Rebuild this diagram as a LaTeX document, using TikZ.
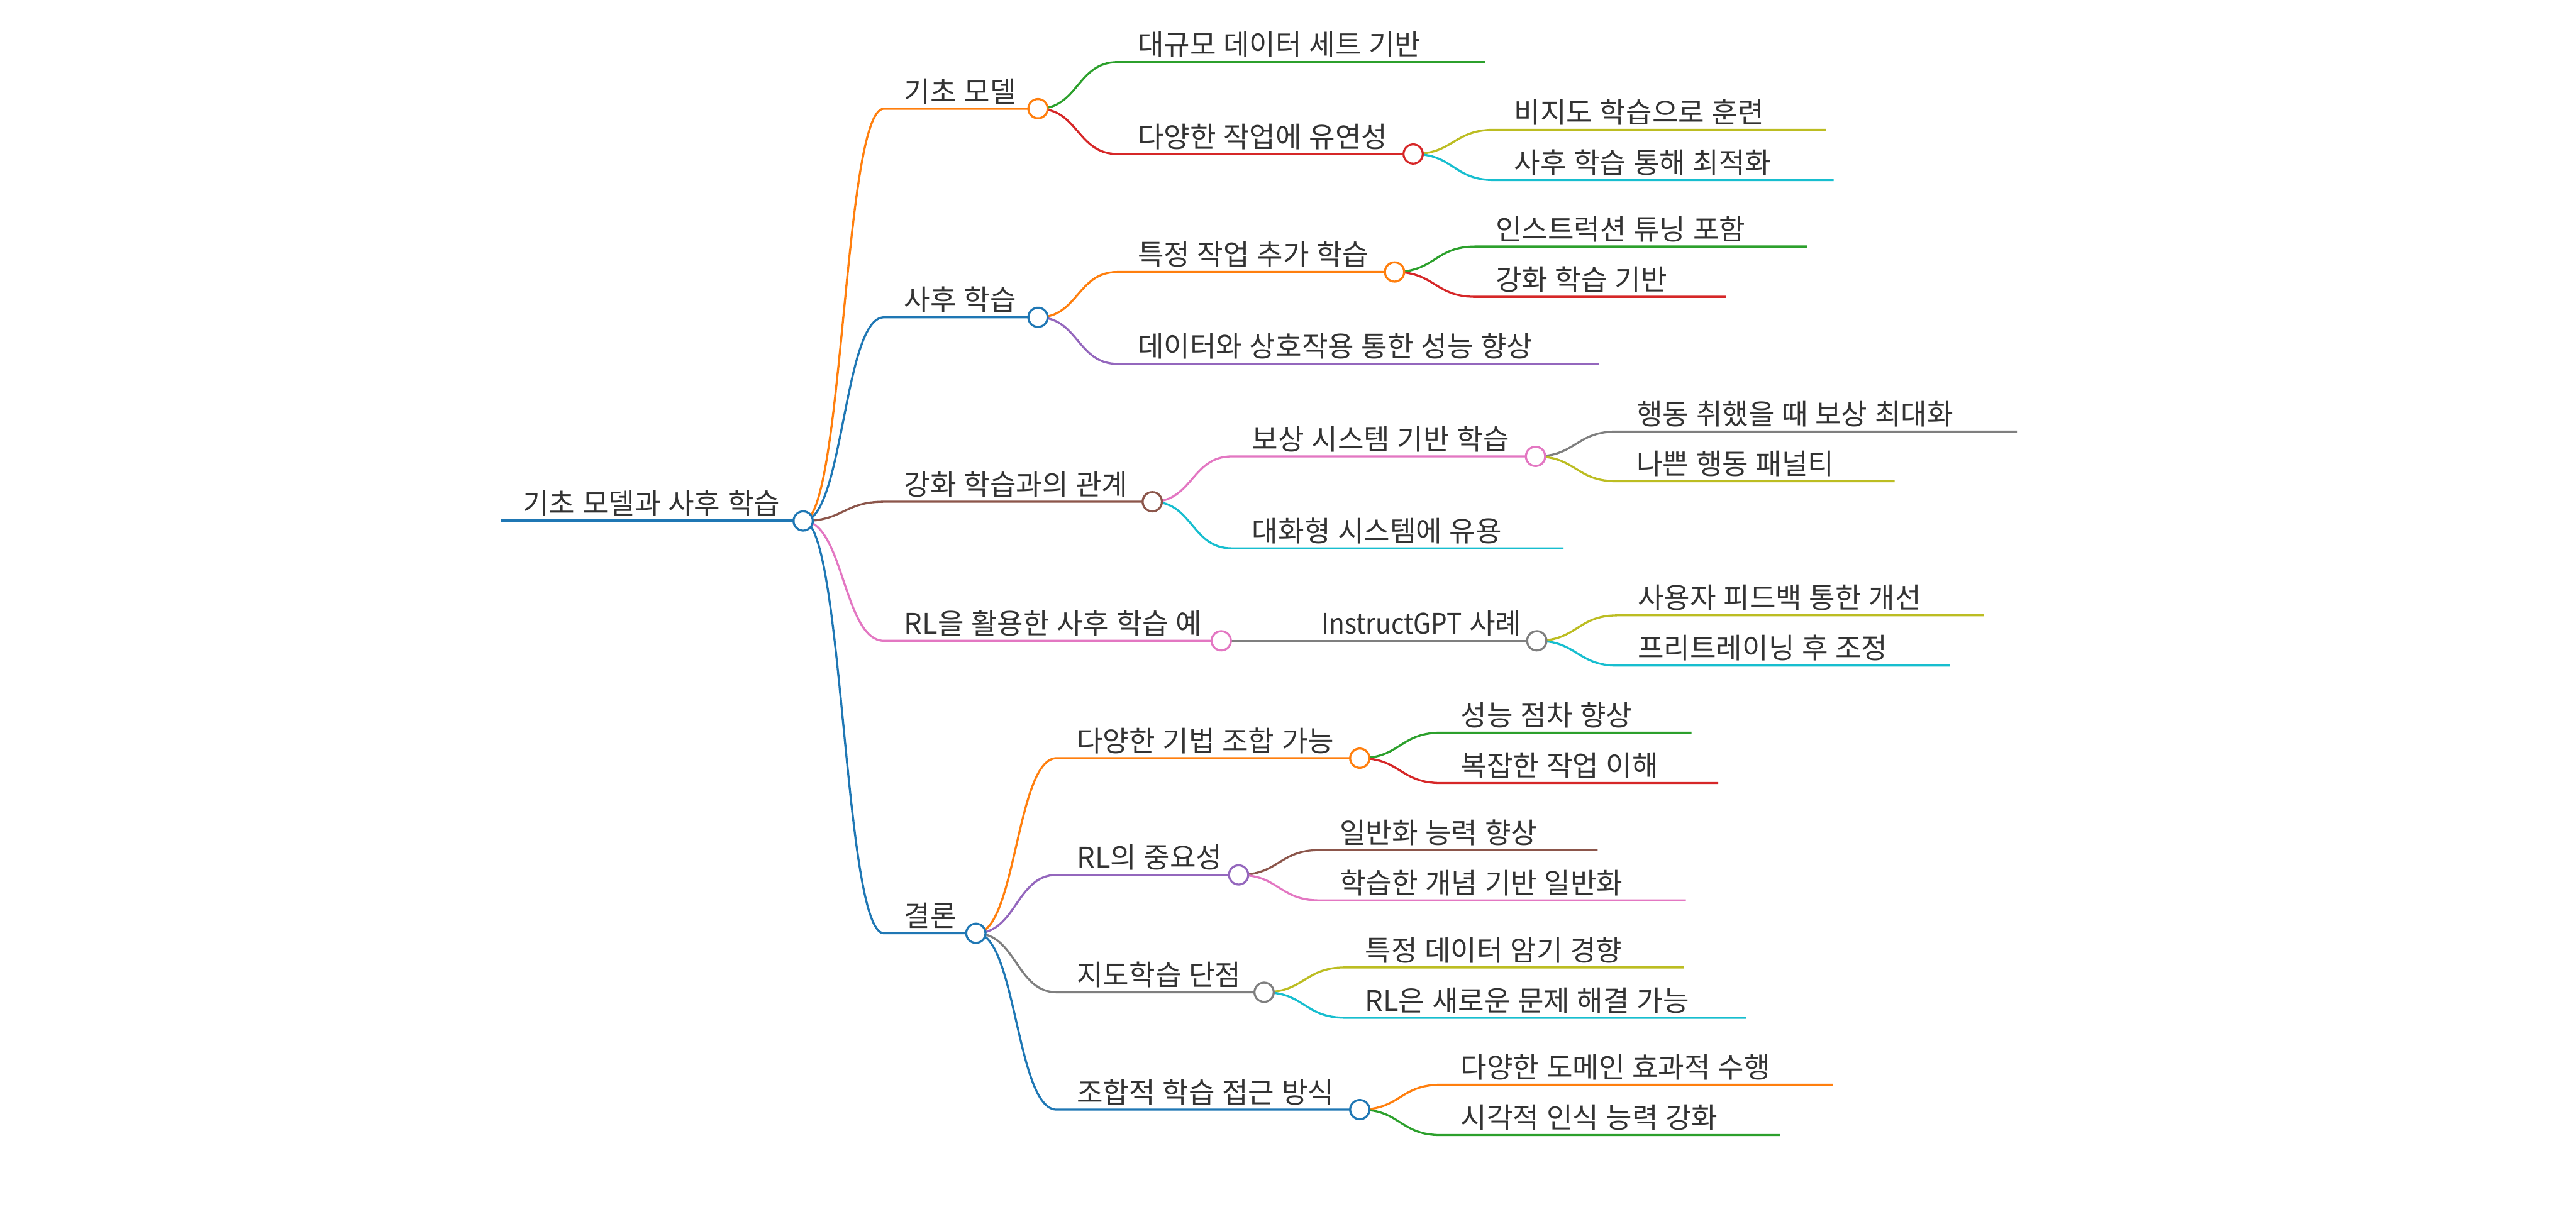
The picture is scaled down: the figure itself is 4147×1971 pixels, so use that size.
\documentclass[tikz,border=0pt]{standalone}
\usepackage{fontspec}
\setmainfont{Noto Sans CJK KR}[WordSpace=1.15]
\newfontfamily\narrowlatin{Noto Sans CJK KR}[FakeStretch=0.9]
\usetikzlibrary{calc}
\definecolor{cblue}{HTML}{1F77B4}
\definecolor{corange}{HTML}{FF7F0E}
\definecolor{cgreen}{HTML}{2CA02C}
\definecolor{cred}{HTML}{D62728}
\definecolor{cpurple}{HTML}{9467BD}
\definecolor{cbrown}{HTML}{8C564B}
\definecolor{cpink}{HTML}{E377C2}
\definecolor{cgray}{HTML}{7F7F7F}
\definecolor{colive}{HTML}{BCBD22}
\definecolor{ccyan}{HTML}{17BECF}
\definecolor{txt}{HTML}{333333}
\pgfdeclarelayer{back}
\pgfdeclarelayer{bg}
\pgfsetlayers{back,bg,main}
% #1 name, #2 parent, #3 colour, #4 start x, #5 y, #6 circle x, #7 text
\newcommand\mmnode[7]{%
  \coordinate (#1-s) at (#4,#5);
  \node[dot,draw=#3] (#1) at (#6,#5) {};
  \node[lbl] (#1-t) at ([shift={(32,-11)}]#1-s) {#7};
  \begin{pgfonlayer}{bg}
    \draw[edge,#3] (#2.center) .. controls +(65,0) and +(-65,0) .. (#1-s) -- (#1.center);
  \end{pgfonlayer}}
% #1 name, #2 parent, #3 colour, #4 start x, #5 y, #6 end x, #7 text
\newcommand\mmleaf[7]{%
  \coordinate (#1-s) at (#4,#5);
  \coordinate (#1-e) at (#6,#5);
  \node[lbl] (#1-t) at ([shift={(32,-11)}]#1-s) {#7};
  \begin{pgfonlayer}{bg}
    \draw[edge,#3] (#2.center) .. controls +(65,0) and +(-65,0) .. (#1-s) -- (#1-e);
  \end{pgfonlayer}}
\begin{document}
\begin{tikzpicture}[x=0.01cm,y=-0.01cm,
  edge/.style={line width=0.95pt},
  dot/.style={circle,fill=white,line width=0.95pt,minimum size=0.31cm,inner sep=0pt},
  lbl/.style={anchor=base west,inner sep=0pt,text=txt,font=\fontsize{13pt}{15pt}\selectfont}]
\begin{pgfonlayer}{back}
  \fill[white] (0,0) rectangle (4147,1971);
\end{pgfonlayer}
\useasboundingbox (0,0) rectangle (4147,1971);

% root
\coordinate (R-s) at (807,839);
\node[dot,draw=cblue] (R) at (1293,839) {};
\node[lbl] (R-t) at ([shift={(34,-11)}]R-s) {기초 모델과 사후 학습};
\begin{pgfonlayer}{bg}
  \draw[line width=1.35pt,cblue] (R-s) -- (R.center);
\end{pgfonlayer}

% level 1
\mmnode{A}{R}{corange}{1423}{175}{1671}{기초 모델}
\mmnode{B}{R}{cblue}{1423}{511}{1671}{사후 학습}
\mmnode{C}{R}{cbrown}{1423}{808}{1855}{강화 학습과의 관계}
\mmnode{D}{R}{cpink}{1423}{1032}{1966}{RL을 활용한 사후 학습 예}
\mmnode{E}{R}{cblue}{1423}{1503}{1571}{결론}

% 기초 모델
\mmleaf{A1}{A}{cgreen}{1799}{100}{2391}{대규모 데이터 세트 기반}
\mmnode{A2}{A}{cred}{1799}{248}{2275}{다양한 작업에 유연성}
\mmleaf{A21}{A2}{colive}{2405}{209}{2939}{비지도 학습으로 훈련}
\mmleaf{A22}{A2}{ccyan}{2405}{290}{2952}{사후 학습 통해 최적화}

% 사후 학습
\mmnode{B1}{B}{corange}{1799}{438}{2245}{특정 작업 추가 학습}
\mmleaf{B2}{B}{cpurple}{1799}{586}{2574}{데이터와 상호작용 통한 성능 향상}
\mmleaf{B11}{B1}{cgreen}{2375}{397}{2909}{인스트럭션 튜닝 포함}
\mmleaf{B12}{B1}{cred}{2375}{478}{2779}{강화 학습 기반}

% 강화 학습과의 관계
\mmnode{C1}{C}{cpink}{1983}{735}{2472}{보상 시스템 기반 학습}
\mmleaf{C2}{C}{ccyan}{1983}{883}{2517}{대화형 시스템에 유용}
\mmleaf{C11}{C1}{cgray}{2602}{695}{3247}{행동 취했을 때 보상 최대화}
\mmleaf{C12}{C1}{colive}{2602}{775}{3050}{나쁜 행동 패널티}

% RL을 활용한 사후 학습 예
\mmnode{D1}{D}{cgray}{2095}{1032}{2474}{{\narrowlatin InstructGPT} 사례}
\mmleaf{D11}{D1}{colive}{2604}{991}{3194}{사용자 피드백 통한 개선}
\mmleaf{D12}{D1}{ccyan}{2604}{1072}{3139}{프리트레이닝 후 조정}

% 결론
\mmnode{E1}{E}{corange}{1701}{1221}{2189}{다양한 기법 조합 가능}
\mmnode{E2}{E}{cpurple}{1701}{1409}{1994}{RL의 중요성}
\mmnode{E3}{E}{cgray}{1701}{1598}{2035}{지도학습 단점}
\mmnode{E4}{E}{cblue}{1701}{1787}{2189}{조합적 학습 접근 방식}
\mmleaf{E11}{E1}{cgreen}{2319}{1180}{2723}{성능 점차 향상}
\mmleaf{E12}{E1}{cred}{2319}{1261}{2766}{복잡한 작업 이해}
\mmleaf{E21}{E2}{cbrown}{2124}{1369}{2572}{일반화 능력 향상}
\mmleaf{E22}{E2}{cpink}{2124}{1450}{2714}{학습한 개념 기반 일반화}
\mmleaf{E31}{E3}{colive}{2165}{1558}{2711}{특정 데이터 암기 경향}
\mmleaf{E32}{E3}{ccyan}{2165}{1639}{2811}{RL은 새로운 문제 해결 가능}
\mmleaf{E41}{E4}{corange}{2319}{1747}{2951}{다양한 도메인 효과적 수행}
\mmleaf{E42}{E4}{cgreen}{2319}{1828}{2865}{시각적 인식 능력 강화}
\end{tikzpicture}
\end{document}
